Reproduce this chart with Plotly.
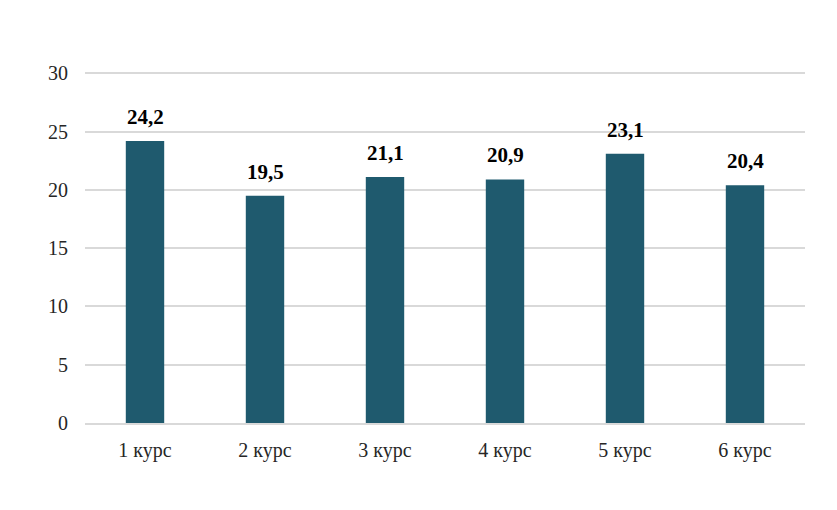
import plotly.graph_objects as go

categories = ["1 курс", "2 курс", "3 курс", "4 курс", "5 курс", "6 курс"]
values = [24.2, 19.5, 21.1, 20.9, 23.1, 20.4]
y_ticks = [0, 5, 10, 15, 20, 25, 30]
labels = [f"{v:.1f}".replace(".", ",") for v in values]

SERIF = "Liberation Serif, Times New Roman, serif"

fig = go.Figure(go.Bar(
    x=categories, y=values,
    marker_color="#1F5A6E",
    marker_line_width=0,
    width=0.32,
))
for c, v, t in zip(categories, values, labels):
    fig.add_annotation(x=c, y=v, text=t, showarrow=False, yanchor="bottom", yshift=10,
                       font=dict(family=SERIF, size=21, color="black", weight="bold"))

fig.update_layout(
    width=837, height=510,
    margin=dict(l=77, r=40, t=63, b=95),
    paper_bgcolor="white", plot_bgcolor="white",
    font=dict(family=SERIF, size=20, color="#262626"),
    showlegend=False,
    xaxis=dict(showgrid=False, showline=True, linecolor="#d9d9d9", linewidth=1.5, ticks="", ticklen=0,
               ticklabelstandoff=8),
    yaxis=dict(range=[0, 30.2], tickvals=y_ticks, showgrid=True, gridcolor="#d9d9d9", gridwidth=1.5,
               zeroline=False, showline=False, ticks="", ticklabelstandoff=16),
)
fig.write_html("out.html")
